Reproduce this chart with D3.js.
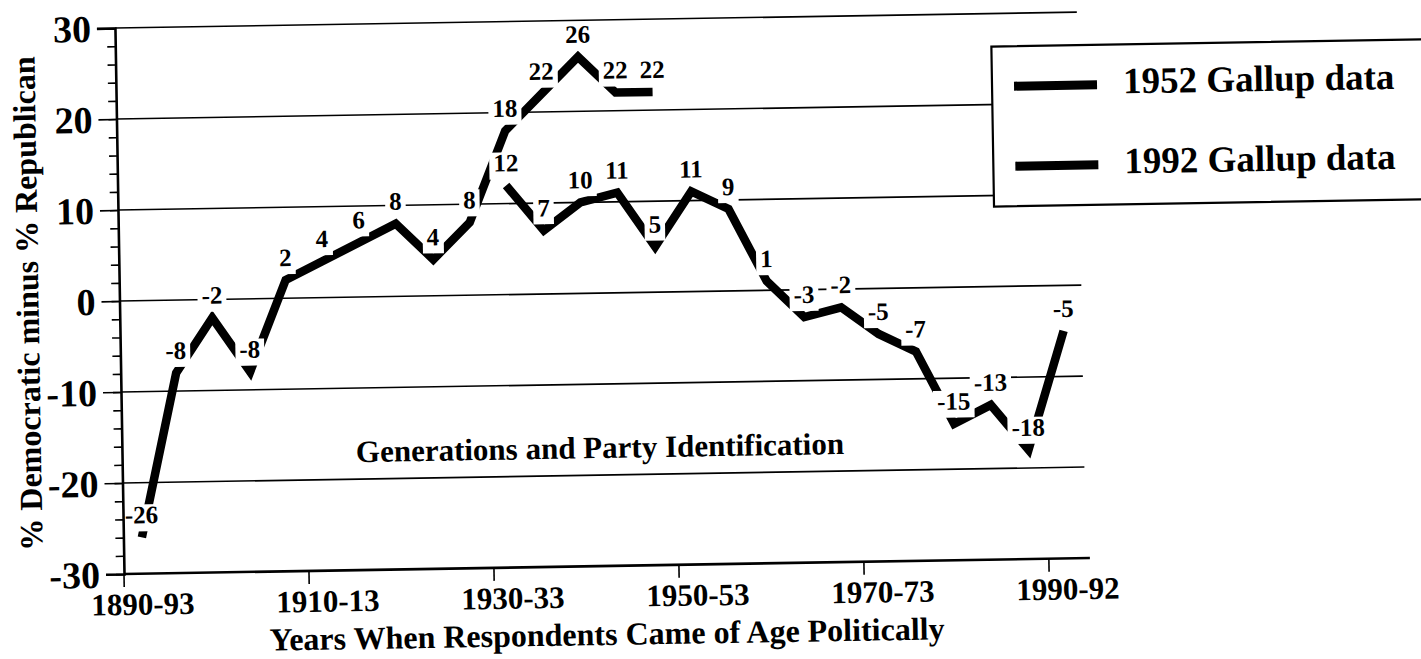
<!DOCTYPE html>
<html>
<head>
<meta charset="utf-8">
<script src="https://cdn.jsdelivr.net/npm/d3@7"></script>
<style>
	body { margin: 0; background: #fff; }
	svg { display: block; }
	text { font-family: "Liberation Serif", "Times New Roman", serif; font-weight: bold; fill: #000; }
</style>
</head>
<body>
<div class="graphic"></div>
<script>
// cohorts: the four-year span in which respondents came of age
var COHORTS = ['1890-93', '1894-97', '1898-01', '1902-05', '1906-09',
	'1910-13', '1914-17', '1918-21', '1922-25', '1926-29',
	'1930-33', '1934-37', '1938-41', '1942-45', '1946-49',
	'1950-53', '1954-57', '1958-61', '1962-65', '1966-69',
	'1970-73', '1974-77', '1978-81', '1982-85', '1986-89', '1990-92'];

var TICK_COHORTS = ['1890-93', '1910-13', '1930-33', '1950-53', '1970-73', '1990-92'];

// % Democratic minus % Republican
var COHORTS_1952 = COHORTS.slice(0, 15);
var VALUES_1952 = [-26, -8, -2, -8, 2, 4, 6, 8, 4, 8, 18, 22, 26, 22, 22];

var COHORTS_1992 = COHORTS.slice(10);
var VALUES_1992 = [12, 7, 10, 11, 5, 11, 9, 1, -3, -2, -5, -7, -15, -13, -18, -5];

var Y_TICKS = [-30, -20, -10, 0, 10, 20, 30];
var SERIES_NAMES = ['1952 Gallup data', '1992 Gallup data'];

(function() {
	var width = 1421,
	    height = 659;
	var plot = {left: 124, right: 1086, top: 28, bottom: 574};

	var svg = d3.select('.graphic').append('svg')
		.attr('width', width)
		.attr('height', height);

	svg.append('rect')
		.attr('width', width)
		.attr('height', height)
		.attr('fill', '#fff');

	// the printed figure sits a touch crooked on the page
	var chart = svg.append('g')
		.attr('transform', 'rotate(-0.95,' + plot.left + ',' + plot.bottom + ')');

	var x = d3.scaleBand()
		.domain(COHORTS)
		.range([plot.left, plot.right]);

	var y = d3.scaleLinear()
		.domain([-30, 30])
		.range([plot.bottom, plot.top]);

	function cx(c) { return x(c) + x.bandwidth() / 2; }

	var series = [
		COHORTS_1952.map(function(c, i) { return {c: c, v: VALUES_1952[i]}; }),
		COHORTS_1992.map(function(c, i) { return {c: c, v: VALUES_1992[i]}; })
	];

	function setupGrid() {
		chart.append('g')
			.selectAll('line')
			.data(Y_TICKS.filter(function(d) { return d > -30; }))
			.enter().append('line')
			.attr('x1', plot.left)
			.attr('x2', plot.right)
			.attr('y1', function(d) { return y(d); })
			.attr('y2', function(d) { return y(d); })
			.attr('stroke', '#000')
			.attr('stroke-width', 1.6);
	}

	function setupAxes() {
		// minor ticks every 2 points
		var minor = chart.append('g')
			.attr('transform', 'translate(' + plot.left + ',0)')
			.call(d3.axisLeft(y).tickValues(d3.range(-30, 31, 2)).tickSize(8).tickFormat(''));
		minor.select('.domain').remove();

		var yAxis = chart.append('g')
			.attr('transform', 'translate(' + plot.left + ',0)')
			.call(d3.axisLeft(y).tickValues(Y_TICKS).tickSize(18).tickPadding(6).tickFormat(String));

		yAxis.selectAll('text')
			.style('font-size', '38px')
			.attr('dy', '0.34em');

		var xAxis = chart.append('g')
			.attr('transform', 'translate(0,' + plot.bottom + ')')
			.call(d3.axisBottom(x).tickValues(TICK_COHORTS).tickSize(13).tickSizeOuter(0));

		// ticks mark the start of a cohort, labels sit under its middle
		xAxis.selectAll('.tick line')
			.attr('x1', -x.bandwidth() / 2)
			.attr('x2', -x.bandwidth() / 2);
		xAxis.selectAll('text')
			.attr('y', 41)
			.attr('dy', 0)
			.style('font-size', '31px');
		xAxis.select('.domain')
			.attr('d', 'M' + plot.left + ',0H' + (plot.right + 4));

		chart.selectAll('.domain').attr('stroke-width', 2.6);
		chart.selectAll('.tick line').attr('stroke-width', 1.6);
		chart.selectAll('.tick text').attr('font-family', null);

		chart.append('text')
			.attr('x', 606)
			.attr('y', 653)
			.attr('text-anchor', 'middle')
			.style('font-size', '32px')
			.text('Years When Respondents Came of Age Politically');

		chart.append('text')
			.attr('transform', 'translate(43,302) rotate(-90)')
			.attr('text-anchor', 'middle')
			.style('font-size', '32px')
			.text('% Democratic minus % Republican');
	}

	function setupTitle() {
		chart.append('text')
			.attr('x', 602)
			.attr('y', 466)
			.attr('text-anchor', 'middle')
			.style('font-size', '31px')
			.text('Generations and Party Identification');
	}

	function setupLegend() {
		var legend = chart.append('g');
		legend.append('rect')
			.attr('x', 1000)
			.attr('y', 61)
			.attr('width', 520)
			.attr('height', 160)
			.attr('fill', '#fff')
			.attr('stroke', '#000')
			.attr('stroke-width', 2.2);

		var item = legend.selectAll('.key')
			.data(SERIES_NAMES)
			.enter().append('g')
			.attr('transform', function(d, i) { return 'translate(0,' + (101 + i * 80) + ')'; });

		item.append('line')
			.attr('x1', 1022)
			.attr('x2', 1105)
			.attr('stroke', '#000')
			.attr('stroke-width', 9);

		item.append('text')
			.attr('x', 1131)
			.attr('y', 9)
			.style('font-size', '37px')
			.text(function(d) { return d; });
	}

	function setupLines() {
		var line = d3.line()
			.x(function(d) { return cx(d.c); })
			.y(function(d) { return y(d.v); });

		chart.append('g')
			.selectAll('path')
			.data(series)
			.enter().append('path')
			.attr('d', line)
			.attr('fill', 'none')
			.attr('stroke', '#000')
			.attr('stroke-width', 8.5)
			.attr('stroke-linejoin', 'miter')
			.attr('stroke-miterlimit', 10);

		// value labels sit on white patches that hide the line just above each point
		var label = chart.append('g')
			.selectAll('g')
			.data(d3.merge(series))
			.enter().append('g')
			.attr('transform', function(d) { return 'translate(' + cx(d.c) + ',' + (y(d.v) - 14) + ')'; });

		label.append('text')
			.attr('text-anchor', 'middle')
			.style('font-size', '25px')
			.text(function(d) { return String(d.v); });

		label.insert('rect', 'text')
			.each(function() {
				var bb = this.parentNode.querySelector('text').getBBox();
				d3.select(this)
					.attr('x', bb.x - 4)
					.attr('y', -19)
					.attr('width', bb.width + 8)
					.attr('height', 27);
			})
			.attr('fill', '#fff');
	}

	function init() {
		setupGrid();
		setupLegend();
		setupTitle();
		setupLines();
		setupAxes();
	}

	init();
})();
</script>
</body>
</html>
